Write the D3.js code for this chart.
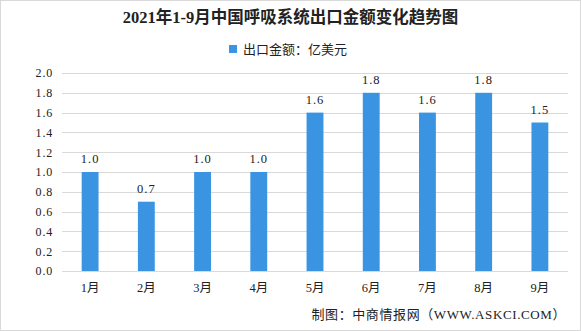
<!DOCTYPE html>
<html>
<head>
<meta charset="utf-8">
<script src="https://cdn.jsdelivr.net/npm/d3@7"></script>
<style>
  body { margin: 0; background: #fff; }
  svg text { font-family: "Liberation Serif", "Noto Sans CJK SC", serif; }
</style>
</head>
<body>
<svg id="chart" width="581" height="331"></svg>
<script>
const months = ["1月","2月","3月","4月","5月","6月","7月","8月","9月"];
const exportValue = [1.0, 0.7, 1.0, 1.0, 1.6, 1.8, 1.6, 1.8, 1.5];
const yTicks = [0, 0.2, 0.4, 0.6, 0.8, 1.0, 1.2, 1.4, 1.6, 1.8, 2.0];

const W = 581, H = 331;
const margin = {left: 62, right: 13, top: 73, bottom: 60};
const barColor = '#3b94e2';

const svg = d3.select('#chart');

// outer frame
svg.append('rect')
  .attr('x', 0.5).attr('y', 0.5)
  .attr('width', W - 1).attr('height', H - 1)
  .attr('fill', '#fff').attr('stroke', '#d9d9d9');

const x = d3.scaleBand()
  .domain(months)
  .range([margin.left, W - margin.right])
  .paddingInner(0.7).paddingOuter(0.35);

const y = d3.scaleLinear()
  .domain([0, 2])
  .range([H - margin.bottom, margin.top]);

// grid lines
svg.append('g')
  .selectAll('line')
  .data(yTicks)
  .join('line')
    .attr('x1', margin.left)
    .attr('x2', W - margin.right)
    .attr('y1', d => Math.round(y(d)) + 0.5)
    .attr('y2', d => Math.round(y(d)) + 0.5)
    .attr('stroke', '#d9d9d9');

// y axis labels
const yAxis = d3.axisLeft(y).tickValues(yTicks).tickFormat(d3.format('.1f')).tickSize(0).tickPadding(9);
svg.append('g')
  .attr('transform', `translate(${margin.left},0)`)
  .call(yAxis)
  .call(g => g.select('.domain').remove())
  .selectAll('text')
    .attr('font-size', 12)
    .attr('fill', '#222')
    .style('letter-spacing', '0.8px')
    .style('font-family', '"Liberation Serif", serif');

// x axis labels
const xAxis = d3.axisBottom(x).tickSize(0).tickPadding(12);
svg.append('g')
  .attr('transform', `translate(0,${H - margin.bottom})`)
  .call(xAxis)
  .call(g => g.select('.domain').remove())
  .selectAll('text')
    .attr('font-size', 12.5)
    .attr('fill', '#222');

// bars
svg.append('g')
  .selectAll('rect')
  .data(exportValue)
  .join('rect')
    .attr('x', (d, i) => x(months[i]))
    .attr('y', d => y(d))
    .attr('width', x.bandwidth())
    .attr('height', d => y(0) - y(d))
    .attr('fill', barColor);

// value labels
svg.append('g')
  .selectAll('text')
  .data(exportValue)
  .join('text')
    .attr('x', (d, i) => x(months[i]) + x.bandwidth() / 2)
    .attr('y', d => y(d) - 9)
    .attr('text-anchor', 'middle')
    .attr('font-size', 12.5)
    .attr('fill', '#222')
    .style('letter-spacing', '1px')
    .text(d => d3.format('.1f')(d));

// title
svg.append('text')
  .attr('x', W / 2).attr('y', 23)
  .attr('text-anchor', 'middle')
  .attr('font-size', 16.5)
  .attr('font-weight', 'bold')
  .attr('fill', '#222')
  .text('2021年1-9月中国呼吸系统出口金额变化趋势图');

// legend
svg.append('rect')
  .attr('x', 229).attr('y', 45)
  .attr('width', 8).attr('height', 8)
  .attr('fill', barColor);
svg.append('text')
  .attr('x', 243).attr('y', 54)
  .attr('font-size', 13)
  .attr('fill', '#222')
  .style('font-family', '"Noto Sans CJK SC", sans-serif')
  .text('出口金额：亿美元');

// source
svg.append('text')
  .attr('x', 566).attr('y', 319)
  .attr('text-anchor', 'end')
  .attr('font-size', 13)
  .attr('fill', '#222')
  .style('letter-spacing', '0.6px')
  .text('制图：中商情报网（WWW.ASKCI.COM）');
</script>
</body>
</html>
